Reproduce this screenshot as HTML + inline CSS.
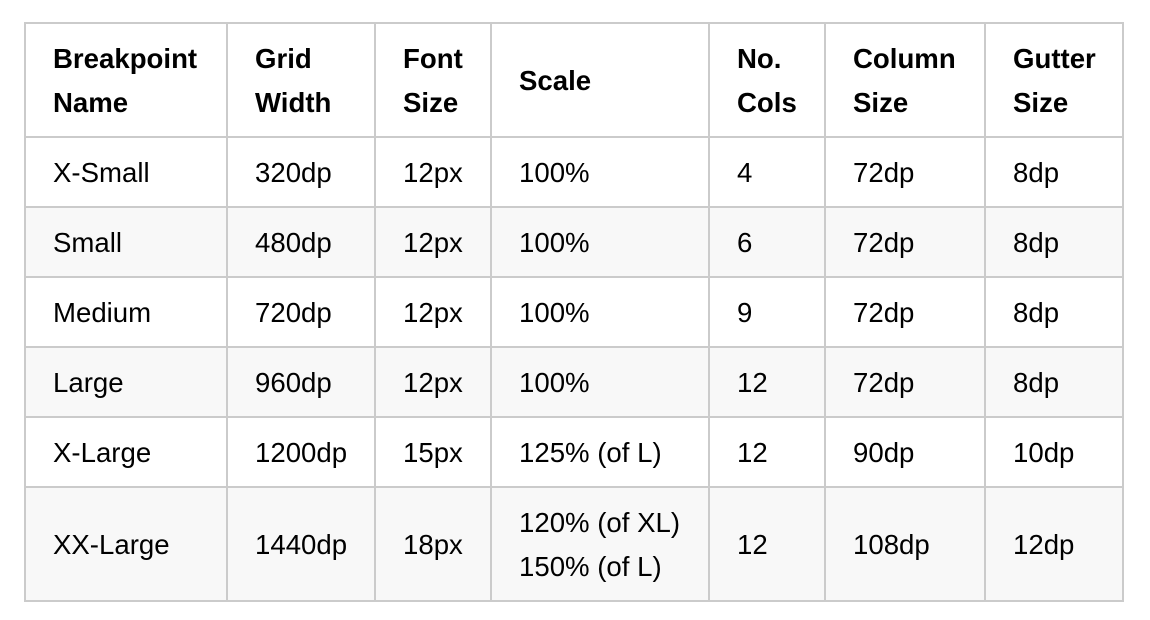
<!DOCTYPE html>
<html><head><meta charset="utf-8"><style>
html,body{margin:0;padding:0;background:#fff;width:1150px;height:620px;overflow:hidden}
body{position:relative;font-family:"Liberation Sans",Arial,sans-serif;font-size:27.6px;color:#000}
.h,.v{position:absolute;background:#cbcbcb}
.h{left:24px;width:1100px;height:2px}
.v{top:22px;height:580px;width:2px}
.bg{position:absolute;left:26px;width:1096px;background:#f8f8f8}
.t{position:absolute;line-height:44px;white-space:nowrap}
.b{font-weight:bold}
</style></head><body>
<div class="bg" style="top:208px;height:68px"></div>
<div class="bg" style="top:348px;height:68px"></div>
<div class="bg" style="top:488px;height:112px"></div>
<div class="h" style="top:22px"></div>
<div class="h" style="top:136px"></div>
<div class="h" style="top:206px"></div>
<div class="h" style="top:276px"></div>
<div class="h" style="top:346px"></div>
<div class="h" style="top:416px"></div>
<div class="h" style="top:486px"></div>
<div class="h" style="top:600px"></div>
<div class="v" style="left:24px"></div>
<div class="v" style="left:226px"></div>
<div class="v" style="left:374px"></div>
<div class="v" style="left:490px"></div>
<div class="v" style="left:708px"></div>
<div class="v" style="left:824px"></div>
<div class="v" style="left:984px"></div>
<div class="v" style="left:1122px"></div>

<div class="t b" style="left:53px;top:37px">Breakpoint<br>Name</div>
<div class="t b" style="left:255px;top:37px">Grid<br>Width</div>
<div class="t b" style="left:403px;top:37px">Font<br>Size</div>
<div class="t b" style="left:519px;top:59px">Scale</div>
<div class="t b" style="left:737px;top:37px">No.<br>Cols</div>
<div class="t b" style="left:853px;top:37px">Column<br>Size</div>
<div class="t b" style="left:1013px;top:37px">Gutter<br>Size</div>

<div class="t" style="left:53px;top:151px">X-Small</div>
<div class="t" style="left:255px;top:151px">320dp</div>
<div class="t" style="left:403px;top:151px">12px</div>
<div class="t" style="left:519px;top:151px">100%</div>
<div class="t" style="left:737px;top:151px">4</div>
<div class="t" style="left:853px;top:151px">72dp</div>
<div class="t" style="left:1013px;top:151px">8dp</div>

<div class="t" style="left:53px;top:221px">Small</div>
<div class="t" style="left:255px;top:221px">480dp</div>
<div class="t" style="left:403px;top:221px">12px</div>
<div class="t" style="left:519px;top:221px">100%</div>
<div class="t" style="left:737px;top:221px">6</div>
<div class="t" style="left:853px;top:221px">72dp</div>
<div class="t" style="left:1013px;top:221px">8dp</div>

<div class="t" style="left:53px;top:291px">Medium</div>
<div class="t" style="left:255px;top:291px">720dp</div>
<div class="t" style="left:403px;top:291px">12px</div>
<div class="t" style="left:519px;top:291px">100%</div>
<div class="t" style="left:737px;top:291px">9</div>
<div class="t" style="left:853px;top:291px">72dp</div>
<div class="t" style="left:1013px;top:291px">8dp</div>

<div class="t" style="left:53px;top:361px">Large</div>
<div class="t" style="left:255px;top:361px">960dp</div>
<div class="t" style="left:403px;top:361px">12px</div>
<div class="t" style="left:519px;top:361px">100%</div>
<div class="t" style="left:737px;top:361px">12</div>
<div class="t" style="left:853px;top:361px">72dp</div>
<div class="t" style="left:1013px;top:361px">8dp</div>

<div class="t" style="left:53px;top:431px">X-Large</div>
<div class="t" style="left:255px;top:431px">1200dp</div>
<div class="t" style="left:403px;top:431px">15px</div>
<div class="t" style="left:519px;top:431px">125% (of L)</div>
<div class="t" style="left:737px;top:431px">12</div>
<div class="t" style="left:853px;top:431px">90dp</div>
<div class="t" style="left:1013px;top:431px">10dp</div>

<div class="t" style="left:53px;top:523px">XX-Large</div>
<div class="t" style="left:255px;top:523px">1440dp</div>
<div class="t" style="left:403px;top:523px">18px</div>
<div class="t" style="left:519px;top:501px">120% (of XL)<br>150% (of L)</div>
<div class="t" style="left:737px;top:523px">12</div>
<div class="t" style="left:853px;top:523px">108dp</div>
<div class="t" style="left:1013px;top:523px">12dp</div>
</body></html>
